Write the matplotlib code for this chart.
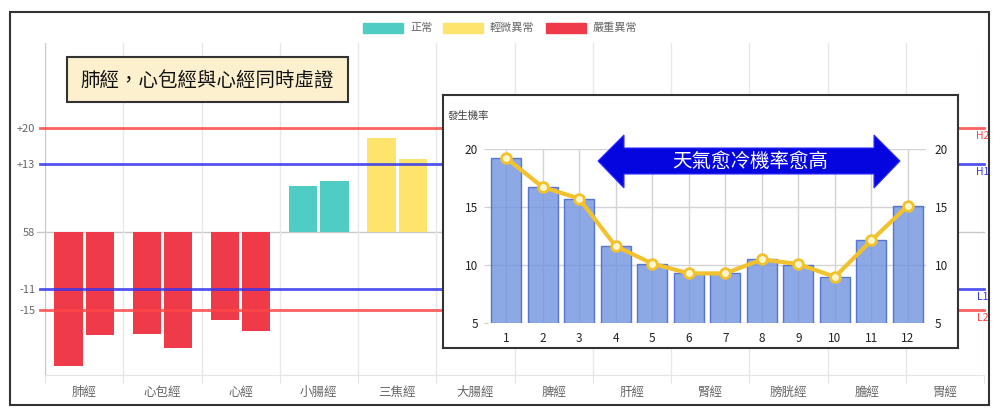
import numpy as np
import matplotlib
matplotlib.use("Agg")
import matplotlib.pyplot as plt
from matplotlib.patches import Rectangle, Polygon, Patch

plt.rcParams['font.family'] = ['Noto Sans CJK TC', 'DejaVu Sans']

# 主圖資料
meridians = ['肺經', '心包經', '心經', '小腸經', '三焦經', '大腸經',
             '脾經', '肝經', '腎經', '膀胱經', '膽經', '胃經']
# 只有前五條經看得到柱子（其餘被小圖遮住）
left_vals = [-25.8, -19.7, -16.9, 8.85, 18.0]
right_vals = [-19.9, -22.4, -19.1, 9.75, 14.0]
status = ['嚴重異常', '嚴重異常', '嚴重異常', '正常', '輕微異常']
status_names = ['正常', '輕微異常', '嚴重異常']
status_colors = {'正常': '#4fcdc5', '輕微異常': '#fde46c', '嚴重異常': '#ef3a4a'}

ref_vals = [20, 13, -11, -15]
ref_names = ['H2', 'H1', 'L1', 'L2']
ref_colors = ['#ff4545', '#3535f0', '#3535f0', '#ff4545']
ytick_vals = [20, 13, 0, -11, -15]
ytick_labels = ['+20', '+13', '58', '-11', '-15']

# 小圖資料
months = list(range(1, 13))
prob_bars = [19.2, 16.7, 15.7, 11.6, 10.1, 9.3, 9.3, 10.5, 10.0, 8.95, 12.1, 15.1]
prob_line = [19.2, 16.7, 15.7, 11.6, 10.1, 9.25, 9.25, 10.45, 10.05, 8.95, 12.1, 15.1]

W, H = 1000, 416


def fbox(x0, y0, x1, y1):
    return [x0 / W, 1 - y1 / H, (x1 - x0) / W, (y1 - y0) / H]


def fpt(x, y):
    return (x / W, 1 - y / H)


fig = plt.figure(figsize=(W / 100, H / 100), dpi=100)

# ---- 主圖 ----
ax = fig.add_axes(fbox(45, 43, 984, 375))
ax.set_xlim(0, len(meridians))
ax.set_ylim(-27.5, 36.35)

x = np.arange(len(left_vals)) + 0.5
cols = [status_colors[s] for s in status]
ax.bar(x - 0.2, left_vals, width=0.36, color=cols, zorder=2)
ax.bar(x + 0.2, right_vals, width=0.36, color=cols, zorder=2)

ax.axhline(0, color='#c8c8c8', lw=1, xmin=-8 / 939, clip_on=False, zorder=1)
for v, name, c in zip(ref_vals, ref_names, ref_colors):
    ax.axhline(v, xmin=-5 / 939, xmax=1, color=c, lw=2, alpha=0.85,
               clip_on=False, zorder=3)
    ax.text(0.9985, v - 0.5, name, transform=ax.get_yaxis_transform(),
            ha='center', va='top', fontsize=7.5, color=c)

ax.set_xticks(range(len(meridians) + 1))
ax.set_xticklabels([])
ax.set_xticks(np.arange(len(meridians)) + 0.5, minor=True)
ax.set_xticklabels(meridians, minor=True)
ax.tick_params(axis='x', which='major', length=6, color='#e4e4e4')
ax.tick_params(axis='x', which='minor', length=0, pad=8, labelsize=9,
               labelcolor='#666666')
ax.grid(axis='x', which='major', color='#e8e8e8', lw=1, zorder=0)

ax.set_yticks(ytick_vals)
ax.set_yticklabels(ytick_labels)
ax.tick_params(axis='y', length=0, pad=7, labelsize=8, labelcolor='#666666')

for s in ['top', 'right']:
    ax.spines[s].set_visible(False)
ax.spines['left'].set_color('#c8c8c8')
ax.spines['bottom'].set_color('#e4e4e4')

handles = [Patch(facecolor=status_colors[s], edgecolor=status_colors[s]) for s in status_names]
fig.legend(handles, status_names, loc='center', bbox_to_anchor=fpt(500, 28),
           ncol=3, frameon=False, fontsize=8, handlelength=3.6, handleheight=1.0,
           columnspacing=1.0, handletextpad=0.6, labelcolor='#666666')

# 說明框
fig.add_artist(Rectangle(fpt(67, 102), 281 / W, 45 / H, transform=fig.transFigure,
                         facecolor='#fdf0cf', edgecolor='#333333', lw=1.5, zorder=2))
fig.text(*fpt(207.5, 80), '肺經，心包經與心經同時虛證', ha='center', va='center',
         fontsize=14, color='#111111', zorder=3)

# ---- 小圖 ----
ax_fr = fig.add_axes(fbox(443, 95, 958, 348), zorder=5)
ax_fr.set_xticks([])
ax_fr.set_yticks([])
for s in ax_fr.spines.values():
    s.set_color('#333333')
    s.set_linewidth(1.5)

ax_in = fig.add_axes(fbox(487.7, 148.7, 926.3, 322.7), zorder=6)
ax_in.set_facecolor('none')
ax_in.bar(months, prob_bars, width=0.82, color='#6f94e0', alpha=0.8,
          edgecolor='#3a5fc8', lw=1, zorder=2)
ax_in.plot(months, prob_line, color='#f2c12e', lw=3, marker='o', ms=7,
           mfc='#fff6cc', mec='#f2c12e', mew=2, zorder=4)
ax_in.set_xlim(0.5, 12.5)
ax_in.set_ylim(5, 20)
ax_in.set_xticks(months)
ax_in.set_yticks([5, 10, 15, 20])
ax_in.grid(True, color='#d4d4d4', lw=1, zorder=0)
ax_in.set_axisbelow(True)
ax_in.tick_params(axis='x', length=0, pad=7, labelsize=8.5, labelcolor='#222222')
ax_in.tick_params(axis='y', length=3, pad=4, color='#d4d4d4', labelsize=8.5,
                  labelcolor='#222222')
for s in ax_in.spines.values():
    s.set_visible(False)

ax_r = ax_in.twinx()
ax_r.set_ylim(5, 20)
ax_r.set_yticks([5, 10, 15, 20])
ax_r.tick_params(axis='y', length=0, pad=6, labelsize=8.5, labelcolor='#222222')
for s in ax_r.spines.values():
    s.set_visible(False)

fig.text(*fpt(448, 116), '發生機率', ha='left', va='center', fontsize=7.5,
         color='#444444', zorder=7)

# 雙向箭頭
arrow_px = [(598, 161), (624, 135), (624, 148), (874, 148), (874, 135), (900, 161),
            (874, 188), (874, 174), (624, 174), (624, 188)]
ax_in.add_patch(Polygon([fpt(px, py) for px, py in arrow_px], closed=True,
                        transform=fig.transFigure, facecolor='#0505e0',
                        edgecolor='#3030ff', lw=0.8, clip_on=False, zorder=10))
ax_in.text(*fpt(750, 161), '天氣愈冷機率愈高', transform=fig.transFigure,
           ha='center', va='center', fontsize=14, color='white', zorder=11)

# 外框
fig.add_artist(Rectangle(fpt(10, 405), 979 / W, 393 / H, transform=fig.transFigure,
                         fill=False, edgecolor='#333333', lw=1.5, zorder=20))

fig.savefig('out.png', dpi=100, facecolor='white')
